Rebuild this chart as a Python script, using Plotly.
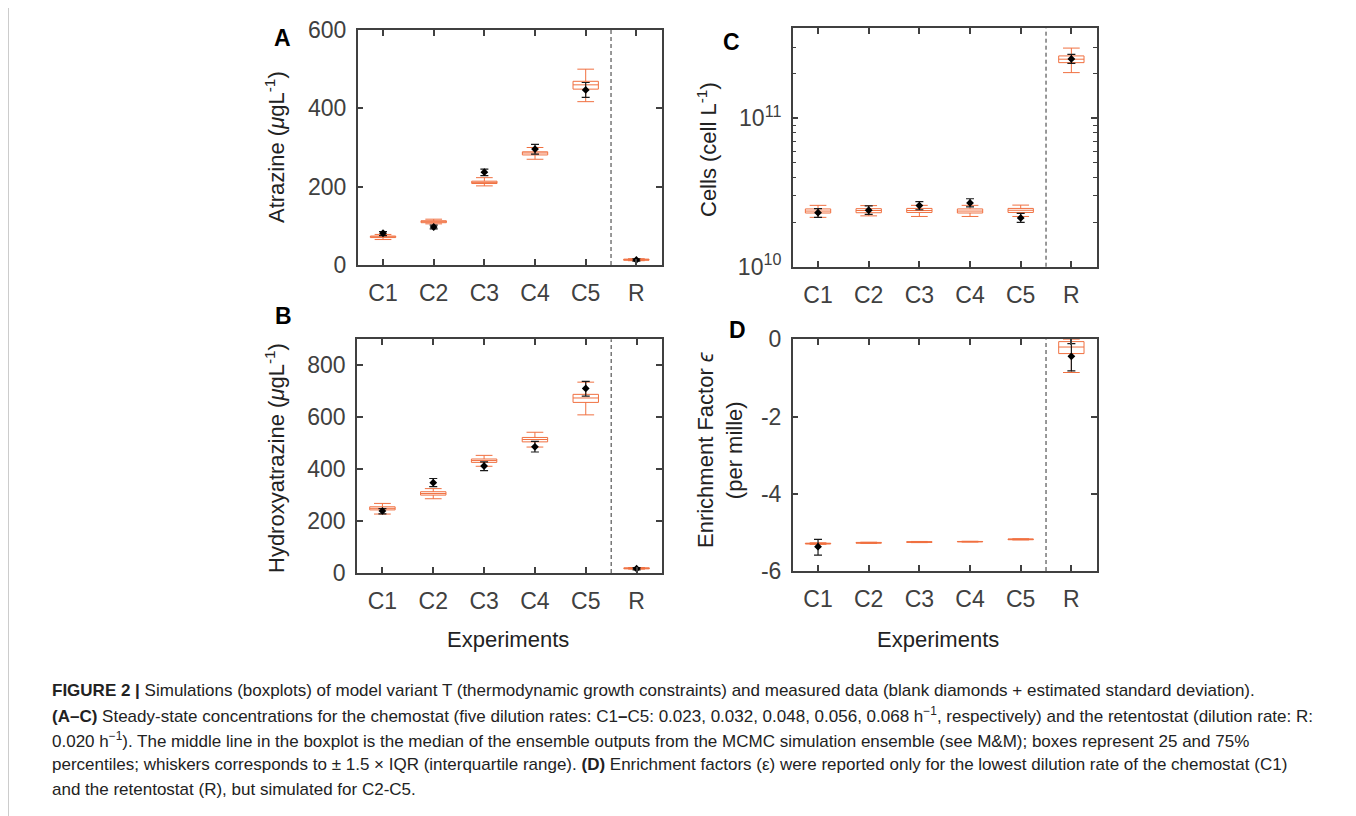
import plotly.graph_objects as go

W, H = 1356, 816
OFFX, OFFY = 8, 8  # page body margin of the viewer

categories = ["C1", "C2", "C3", "C4", "C5", "R"]
xpos = [1, 2, 3, 4, 5, 6]

# ---- Panel A: Atrazine (ug/L) ----
a_q1 = [70, 108, 208, 281, 449, 12]
a_med = [72, 111, 211, 286, 460, 13.6]
a_q3 = [74, 113, 214, 289, 469, 15]
a_lo = [65, 105, 202, 270, 417, 11]
a_hi = [78, 117, 223, 300, 500, 16]
a_meas = [81, 97, 237, 296, 447, 13]
a_meas_lo = [75, 92, 228, 283, 428, 10]
a_meas_hi = [85, 102, 245, 308, 466, 16]

# ---- Panel B: Hydroxyatrazine (ug/L) ----
b_q1 = [243, 300, 426, 505, 657, 16]
b_med = [249, 306, 433, 514, 674, 18]
b_q3 = [255, 313, 439, 522, 688, 20]
b_lo = [227, 286, 411, 485, 609, 15]
b_hi = [268, 325, 453, 542, 735, 21]
b_meas = [239, 348, 412, 486, 711, 16.6]
b_meas_lo = [228, 333, 394, 466, 681, 12]
b_meas_hi = [248, 364, 428, 507, 738, 21]

# ---- Panel C: Cells (cell/L) ----
c_q1 = [2.30e10, 2.31e10, 2.32e10, 2.30e10, 2.32e10, 2.37e11]
c_med = [2.37e10, 2.39e10, 2.39e10, 2.37e10, 2.40e10, 2.50e11]
c_q3 = [2.45e10, 2.46e10, 2.47e10, 2.45e10, 2.47e10, 2.63e11]
c_lo = [2.15e10, 2.20e10, 2.18e10, 2.18e10, 2.18e10, 2.03e11]
c_hi = [2.59e10, 2.58e10, 2.59e10, 2.59e10, 2.60e10, 2.97e11]
c_meas = [2.31e10, 2.40e10, 2.58e10, 2.69e10, 2.13e10, 2.51e11]
c_meas_lo = [2.15e10, 2.25e10, 2.42e10, 2.53e10, 1.99e10, 2.34e11]
c_meas_hi = [2.46e10, 2.57e10, 2.74e10, 2.87e10, 2.29e10, 2.69e11]

# ---- Panel D: Enrichment factor (per mille) ----
d_q1 = [-5.30, -5.28, -5.26, -5.245, -5.19, -0.37]
d_med = [-5.29, -5.27, -5.25, -5.24, -5.18, -0.20]
d_q3 = [-5.28, -5.26, -5.24, -5.235, -5.17, -0.06]
d_lo = [-5.31, -5.285, -5.265, -5.25, -5.195, -0.86]
d_hi = [-5.27, -5.255, -5.235, -5.23, -5.165, 0.0]
d_x_meas = [1, 6]
d_meas = [-5.37, -0.44]
d_meas_lo = [-5.59, -0.82]
d_meas_hi = [-5.18, -0.11]

ORANGE = "#F07040"
AXC = "#404040"
FONT = "Liberation Sans, Arial, Helvetica, sans-serif"
TICKF = dict(family=FONT, size=23, color=AXC)


def X(px):
    return (px - OFFX) / W


def Y(py):
    return 1 - (py - OFFY) / H


fig = go.Figure()


def add_panel(idx, q1, med, q3, lo, hi, mx, my, mlo, mhi):
    xa = "x" if idx == 1 else f"x{idx}"
    ya = "y" if idx == 1 else f"y{idx}"
    fig.add_trace(go.Box(
        x=xpos, q1=q1, median=med, q3=q3, lowerfence=lo, upperfence=hi,
        orientation="v", width=0.5, whiskerwidth=0.66, boxpoints=False,
        line=dict(color=ORANGE, width=1), fillcolor="rgba(0,0,0,0)",
        xaxis=xa, yaxis=ya, showlegend=False, hoverinfo="skip"))
    fig.add_trace(go.Scatter(
        x=mx, y=my, mode="markers",
        marker=dict(symbol="diamond", size=6, color="black"),
        error_y=dict(type="data", symmetric=False,
                     array=[h - v for h, v in zip(mhi, my)],
                     arrayminus=[v - l for l, v in zip(mlo, my)],
                     color="#1a1a1a", thickness=1.2, width=4),
        xaxis=xa, yaxis=ya, showlegend=False, hoverinfo="skip"))


add_panel(1, a_q1, a_med, a_q3, a_lo, a_hi, xpos, a_meas, a_meas_lo, a_meas_hi)
add_panel(2, b_q1, b_med, b_q3, b_lo, b_hi, xpos, b_meas, b_meas_lo, b_meas_hi)
add_panel(3, c_q1, c_med, c_q3, c_lo, c_hi, xpos, c_meas, c_meas_lo, c_meas_hi)
add_panel(4, d_q1, d_med, d_q3, d_lo, d_hi, d_x_meas, d_meas, d_meas_lo, d_meas_hi)


def xaxis_cfg(left, right, anchor):
    return dict(domain=[X(left), X(right)], anchor=anchor, range=[0.5, 6.5],
                tickvals=xpos, ticktext=categories, ticks="inside", ticklen=6,
                tickwidth=1.5, tickcolor=AXC, showline=True, linecolor=AXC,
                linewidth=1.5, mirror="allticks", showgrid=False,
                zeroline=False, tickfont=TICKF, ticklabelstandoff=7,
                automargin=False)


def yaxis_cfg(top, bottom, anchor, rng, tv, tt, **kw):
    d = dict(domain=[Y(bottom), Y(top)], anchor=anchor, range=rng,
             tickvals=tv, ticktext=tt, ticks="inside", ticklen=6,
             tickwidth=1.5, tickcolor=AXC, showline=True, linecolor=AXC,
             linewidth=1.5, mirror="allticks", showgrid=False,
             zeroline=False, tickfont=TICKF, ticklabelstandoff=5,
             automargin=False)
    d.update(kw)
    return d


minor_c = [k * 1e10 for k in range(2, 10)] + [2e11, 3e11, 4e11]

fig.update_layout(
    width=W, height=H, margin=dict(l=0, r=0, t=0, b=0, pad=0),
    paper_bgcolor="white", plot_bgcolor="white",
    xaxis=xaxis_cfg(357.7, 661.7, "y"),
    yaxis=yaxis_cfg(30, 265, "x", [0, 600], [0, 200, 400, 600],
                    ["0", "200", "400", "600"]),
    xaxis2=xaxis_cfg(357.0, 662.0, "y2"),
    yaxis2=yaxis_cfg(339.3, 573, "x2", [0, 900], [0, 200, 400, 600, 800],
                     ["0", "200", "400", "600", "800"]),
    xaxis3=xaxis_cfg(792.7, 1096.7, "y3"),
    yaxis3=yaxis_cfg(28.3, 266.7, "x3", [10, 11.606], [1e10, 1e11],
                     ["10<sup>10</sup>", "10<sup>11</sup>"], type="log",
                     minor=dict(tickvals=minor_c, ticks="inside", ticklen=4,
                                tickwidth=1.2, tickcolor=AXC, showgrid=False)),
    xaxis4=xaxis_cfg(792.7, 1096.7, "y4"),
    yaxis4=yaxis_cfg(339.3, 571, "x4", [-6, 0], [-6, -4, -2, 0],
                     ["-6", "-4", "-2", "0"]),
)

# dashed separators between chemostat and retentostat
for i in ["", "2", "3", "4"]:
    fig.add_shape(type="line", xref=f"x{i}", yref=f"y{i} domain",
                  x0=5.5, x1=5.5, y0=0, y1=1,
                  line=dict(color="#333", width=1, dash="4px,3px"))

TITLEF = dict(family=FONT, size=22, color="#222")
ann = []


def add_text(x, y, text, font, angle=0, xanchor="center", yanchor="middle"):
    ann.append(dict(x=X(x), y=Y(y), xref="paper", yref="paper",
                    text=text, showarrow=False, font=font, textangle=angle,
                    xanchor=xanchor, yanchor=yanchor))


add_text(275, 147, "Atrazine (<i>μ</i>gL<sup>-1</sup>)", TITLEF, -90)
add_text(275, 458, "Hydroxyatrazine (<i>μ</i>gL<sup>-1</sup>)", TITLEF, -90)
add_text(707, 150, "Cells (cell L<sup>-1</sup>)", TITLEF, -90)
add_text(720, 450, "Enrichment Factor <i>ϵ</i><br>(per mille)", TITLEF, -90)
add_text(508, 639, "Experiments", TITLEF)
add_text(938, 639, "Experiments", TITLEF)

LETF = dict(family=FONT, size=23, color="black")
add_text(282, 38, "<b>A</b>", LETF)
add_text(283, 316, "<b>B</b>", LETF)
add_text(731, 42, "<b>C</b>", LETF)
add_text(737, 330, "<b>D</b>", LETF)

CAPF = dict(family=FONT, size=17, color="#222")
caption_lines = [
    "<b>FIGURE 2 |</b> Simulations (boxplots) of model variant T (thermodynamic growth constraints) and measured data (blank diamonds + estimated standard deviation).",
    "<b>(A–C)</b> Steady-state concentrations for the chemostat (five dilution rates: C1<b>–</b>C5: 0.023, 0.032, 0.048, 0.056, 0.068 h<sup>−1</sup>, respectively) and the retentostat (dilution rate: R:",
    "0.020 h<sup>−1</sup>). The middle line in the boxplot is the median of the ensemble outputs from the MCMC simulation ensemble (see M&M); boxes represent 25 and 75%",
    "percentiles; whiskers corresponds to ± 1.5 × IQR (interquartile range). <b>(D)</b> Enrichment factors (ε) were reported only for the lowest dilution rate of the chemostat (C1)",
    "and the retentostat (R), but simulated for C2-C5.",
]
cap_y = [690, 715, 740, 764, 789]
for t, yy in zip(caption_lines, cap_y):
    add_text(50, yy, t, CAPF, xanchor="left")

fig.update_layout(annotations=ann)

# page frame lines
for xx in [8, 1353]:
    fig.add_shape(type="line", xref="paper", yref="paper",
                  x0=X(xx), x1=X(xx), y0=0, y1=1,
                  line=dict(color="#999", width=1))

fig.write_html("out.html")
